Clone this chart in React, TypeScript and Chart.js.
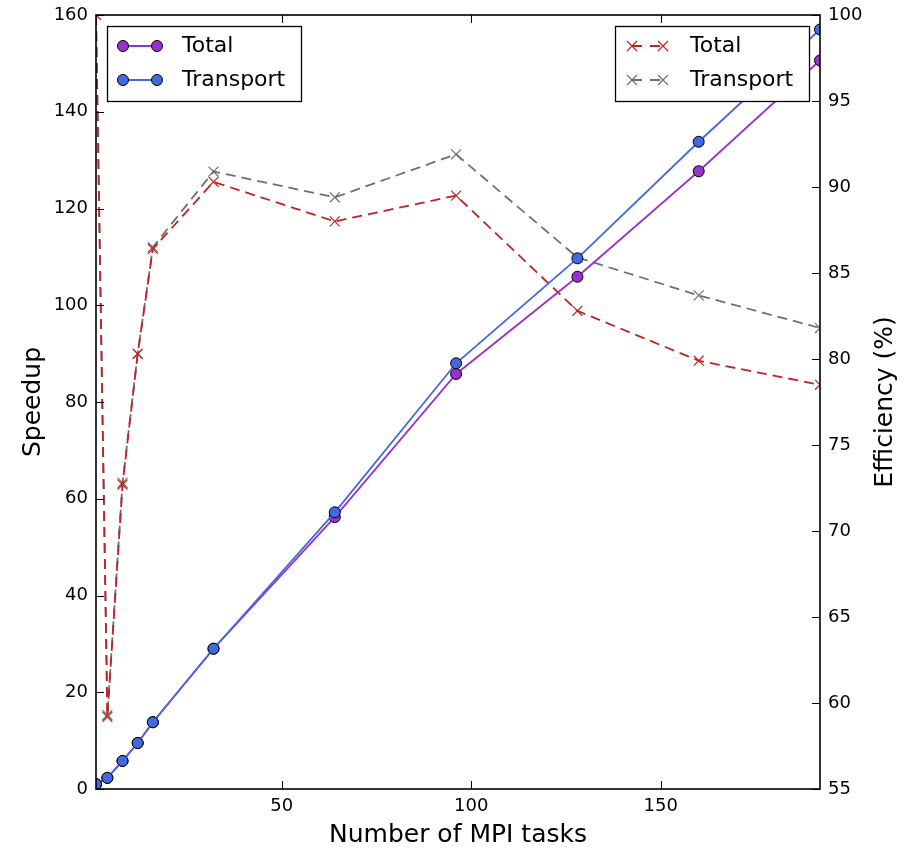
import React, { useEffect, useRef } from "react";
import { Chart, registerables } from "chart.js";

Chart.register(...registerables);

// ---- data ----
const tasks = [1, 4, 8, 12, 16, 32, 64, 96, 128, 160, 192];
const speedupTotal = [1.0, 2.3, 5.8, 9.5, 13.8, 29.0, 56.2, 85.8, 105.9, 127.7, 150.6];
const speedupTransport = [1.0, 2.3, 5.8, 9.5, 13.8, 29.0, 57.2, 88.0, 109.7, 133.8, 157.0];
const effTotal = [100, 59.2, 72.7, 80.3, 86.4, 90.3, 88.0, 89.5, 82.8, 79.9, 78.5];
const effTransport = [100, 59.3, 72.8, 80.3, 86.5, 90.9, 89.4, 91.9, 85.9, 83.7, 81.8];
const xTickValues = [50, 100, 150];
const xLabel = "Number of MPI tasks";
const yLabel = "Speedup";
const y1Label = "Efficiency (%)";
const legendLeft = ["Total", "Transport"];
const legendRight = ["Total", "Transport"];

const FONT = "DejaVu Sans";
const PURPLE = "#9932cc";
const BLUE = "#4169e1";
const RED = "#c42222";
const GREY = "#707070";

function pts(ys: number[]) {
  return tasks.map((x, i) => ({ x, y: ys[i] }));
}

const decor = {
  id: "decor",
  afterDraw(chart: any) {
    const { ctx, chartArea: a, scales } = chart;
    ctx.save();
    ctx.strokeStyle = "#000";
    ctx.lineWidth = 1;
    const TL = 8;
    // inward ticks
    scales.y.ticks.forEach((t: any) => {
      const yy = Math.round(scales.y.getPixelForValue(t.value)) + 0.5;
      ctx.beginPath();
      ctx.moveTo(a.left, yy);
      ctx.lineTo(a.left + TL, yy);
      ctx.stroke();
    });
    scales.y1.ticks.forEach((t: any) => {
      const yy = Math.round(scales.y1.getPixelForValue(t.value)) + 0.5;
      ctx.beginPath();
      ctx.moveTo(a.right, yy);
      ctx.lineTo(a.right - TL, yy);
      ctx.stroke();
    });
    scales.x.ticks.forEach((t: any) => {
      const xx = Math.round(scales.x.getPixelForValue(t.value)) + 0.5;
      ctx.beginPath();
      ctx.moveTo(xx, a.bottom);
      ctx.lineTo(xx, a.bottom - TL);
      ctx.moveTo(xx, a.top);
      ctx.lineTo(xx, a.top + TL);
      ctx.stroke();
    });
    // frame
    ctx.lineWidth = 1.6;
    ctx.strokeRect(a.left, a.top, a.right - a.left, a.bottom - a.top);

    // axis titles
    ctx.fillStyle = "#000";
    ctx.font = `25px '${FONT}'`;
    ctx.textAlign = "center";
    ctx.textBaseline = "middle";
    const cy = (a.top + a.bottom) / 2;
    ctx.save();
    ctx.translate(33, cy);
    ctx.rotate(-Math.PI / 2);
    ctx.fillText(yLabel, 0, 0);
    ctx.restore();
    ctx.save();
    ctx.translate(885, cy);
    ctx.rotate(-Math.PI / 2);
    ctx.fillText(y1Label, 0, 0);
    ctx.restore();
    ctx.fillText(xLabel, (a.left + a.right) / 2, 835);

    // legends
    const drawBox = (x: number, y: number, w: number, h: number) => {
      ctx.fillStyle = "#fff";
      ctx.fillRect(x, y, w, h);
      ctx.strokeStyle = "#000";
      ctx.lineWidth = 1.3;
      ctx.strokeRect(x, y, w, h);
    };
    const circle = (x: number, y: number, c: string) => {
      ctx.beginPath();
      ctx.arc(x, y, 5.5, 0, Math.PI * 2);
      ctx.fillStyle = c;
      ctx.fill();
      ctx.strokeStyle = "#000";
      ctx.lineWidth = 1;
      ctx.stroke();
    };
    const cross = (x: number, y: number, c: string) => {
      const r = 5;
      ctx.strokeStyle = c;
      ctx.lineWidth = 1.2;
      ctx.beginPath();
      ctx.moveTo(x - r, y - r);
      ctx.lineTo(x + r, y + r);
      ctx.moveTo(x + r, y - r);
      ctx.lineTo(x - r, y + r);
      ctx.stroke();
    };
    ctx.font = `22px '${FONT}'`;
    ctx.textAlign = "left";
    ctx.textBaseline = "middle";
    // left legend
    drawBox(107.5, 26.5, 194, 75);
    const lc = [PURPLE, BLUE];
    [46, 80].forEach((yy, i) => {
      ctx.strokeStyle = lc[i];
      ctx.lineWidth = 1.8;
      ctx.beginPath();
      ctx.moveTo(123, yy);
      ctx.lineTo(157, yy);
      ctx.stroke();
      circle(123, yy, lc[i]);
      circle(157, yy, lc[i]);
      ctx.fillStyle = "#000";
      ctx.fillText(legendLeft[i], 182, yy);
    });
    // right legend
    drawBox(615.5, 26.5, 194, 75);
    const rc = [RED, GREY];
    [46, 80].forEach((yy, i) => {
      ctx.strokeStyle = rc[i];
      ctx.lineWidth = 1.8;
      ctx.setLineDash([10, 8]);
      ctx.beginPath();
      ctx.moveTo(632, yy);
      ctx.lineTo(663, yy);
      ctx.stroke();
      ctx.setLineDash([]);
      cross(632, yy, rc[i]);
      cross(663, yy, rc[i]);
      ctx.fillStyle = "#000";
      ctx.fillText(legendRight[i], 690, yy);
    });
    ctx.restore();
  },
};

export default function App() {
  const ref = useRef<HTMLCanvasElement | null>(null);
  useEffect(() => {
    if (!ref.current) return;
    Chart.defaults.font.family = FONT;
    const tickCommon = { color: "#000", font: { family: FONT, size: 18 } };
    const effCommon = {
      pointStyle: "crossRot",
      pointRadius: 7,
      pointBorderWidth: 1.2,
      borderWidth: 1.8,
      borderDash: [10, 6],
      tension: 0,
      clip: 0,
      yAxisID: "y1",
    };
    const spCommon = {
      pointBorderColor: "#000",
      pointBorderWidth: 1,
      pointRadius: 5.5,
      borderWidth: 1.8,
      tension: 0,
      clip: 0,
      yAxisID: "y",
    };
    const fitY = (w: number) => (s: any) => {
      s.width = w;
      s.paddingTop = 0;
      s.paddingBottom = 0;
    };
    const chart = new Chart(ref.current, {
      type: "line",
      data: {
        datasets: [
          {
            ...spCommon,
            label: "Transport",
            data: pts(speedupTransport),
            borderColor: BLUE,
            backgroundColor: BLUE,
            pointBackgroundColor: BLUE,
          },
          {
            ...spCommon,
            label: "Total",
            data: pts(speedupTotal),
            borderColor: PURPLE,
            backgroundColor: PURPLE,
            pointBackgroundColor: PURPLE,
          },
          {
            ...effCommon,
            label: "Total eff",
            data: pts(effTotal),
            borderColor: RED,
            backgroundColor: RED,
            pointBorderColor: RED,
          },
          {
            ...effCommon,
            label: "Transport eff",
            data: pts(effTransport),
            borderColor: GREY,
            backgroundColor: GREY,
            pointBorderColor: GREY,
          },
        ],
      },
      options: {
        animation: false,
        responsive: false,
        devicePixelRatio: 1,
        layout: { padding: { top: 15, left: 0, right: 0, bottom: 0 } },
        plugins: { legend: { display: false }, tooltip: { enabled: false } },
        scales: {
          x: {
            type: "linear",
            position: "bottom",
            min: 1,
            max: 192,
            grid: { display: false, drawTicks: false },
            border: { display: false },
            ticks: { ...tickCommon, padding: 7, maxRotation: 0, autoSkip: false },
            afterBuildTicks: (s: any) => {
              s.ticks = xTickValues.map((v) => ({ value: v }));
            },
            afterFit: (s: any) => {
              s.height = 60;
              s.paddingLeft = 0;
              s.paddingRight = 0;
            },
          },
          y: {
            type: "linear",
            position: "left",
            min: 0,
            max: 160,
            grid: { display: false, drawTicks: false },
            border: { display: false },
            ticks: { ...tickCommon, stepSize: 20, padding: 8 },
            afterFit: fitY(96),
          },
          y1: {
            type: "linear",
            position: "right",
            min: 55,
            max: 100,
            grid: { display: false, drawTicks: false },
            border: { display: false },
            ticks: { ...tickCommon, stepSize: 5, padding: 8 },
            afterFit: fitY(88),
          },
        },
      },
      plugins: [decor],
    } as any);
    return () => chart.destroy();
  }, []);
  return (
    <div style={{ position: "absolute", left: 0, top: 0, width: 908, height: 849, background: "#fff" }}>
      <canvas ref={ref} width={908} height={849} style={{ display: "block" }} />
    </div>
  );
}
